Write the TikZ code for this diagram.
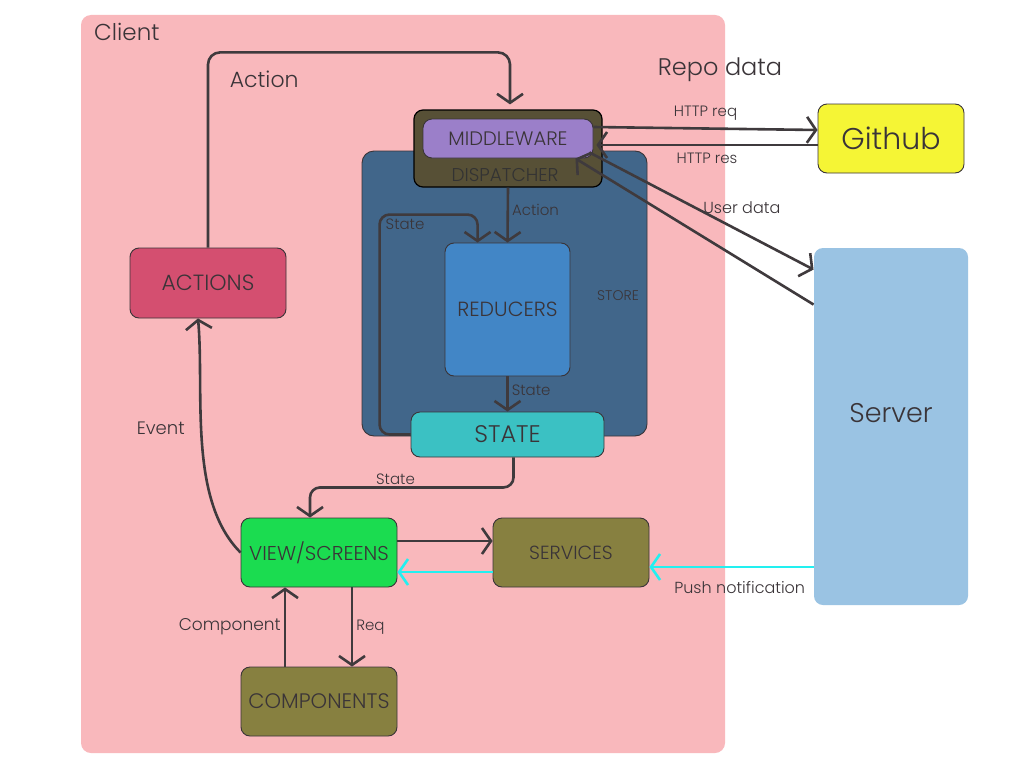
\documentclass[tikz,border=0pt]{standalone}
\usepackage{fontspec}
\setmainfont{Poppins}[UprightFont=* Light]
\usetikzlibrary{arrows.meta,positioning}
\definecolor{clientbg}{HTML}{F9B8BC}
\definecolor{storebg}{HTML}{41668A}
\definecolor{dispbg}{HTML}{575036}
\definecolor{midbg}{HTML}{9B7FC9}
\definecolor{redbg}{HTML}{4286C6}
\definecolor{statebg}{HTML}{3BC1C3}
\definecolor{actbg}{HTML}{D44F70}
\definecolor{viewbg}{HTML}{1BDC50}
\definecolor{olivebg}{HTML}{878040}
\definecolor{gitbg}{HTML}{F5F535}
\definecolor{serverbg}{HTML}{9AC3E3}
\definecolor{wire}{HTML}{3F3A3D}
\definecolor{ink}{HTML}{3A3438}
\definecolor{pushc}{HTML}{22F0F0}
\newcommand{\fsz}[1]{\fontsize{#1}{#1}\selectfont}

\begin{document}
\begin{tikzpicture}[x=1pt, y=-1pt, line join=round,
  box/.style={draw=ink, line width=0.9pt, rounded corners=9pt, fill=#1, text=ink,
  minimum width=156, minimum height=70, inner sep=2pt, font=\fsz{21}}, box/.default=white,
  arr/.style={-{Straight Barb[length=9pt,width=26pt]}, line width=2.6pt, draw=wire},
  lbl/.style={text=ink, font=\fsz{15}, inner sep=1pt}]
\fill[white] (0,0) rectangle (1024,768);
\useasboundingbox (0,0) rectangle (1024,768);
% client side
\node[fill=clientbg, rounded corners=10pt, minimum width=644, minimum height=738] (client) at (403,384) {};
\node[lbl, font=\fsz{23}, anchor=west] (clienttxt) at (93,32) {Client};
\node[box=storebg, minimum width=285, minimum height=285, rounded corners=12pt] (store) at (504.5,293.5) {};
\node[lbl, font=\fsz{14}] (storetxt) at (618,296) {STORE};
\node[box=dispbg, draw=black, minimum width=188, minimum height=77, line width=1.2pt] (dispatcher) at (508,148.5) {};
\node[lbl, font=\fsz{18.5}, text=black!80] (disptxt) at (505,175) {DISPATCHER};
\node[box=midbg, minimum width=170, minimum height=39, font=\fsz{19.5}] (middleware) at (508,138.5) {MIDDLEWARE};
\node[box=redbg, minimum width=125, minimum height=133, font=\fsz{20.5}] (reducers) at (507.5,309.5) {REDUCERS};
\node[box=statebg, minimum width=193, minimum height=45, font=\fsz{24}] (state) at (507.5,434.5) {STATE};
\node[box=actbg, font=\fsz{22}] (actions) at (208,283) {ACTIONS};
\node[box=viewbg, minimum height=69, font=\fsz{20}] (view) at (319,552.5) {VIEW/SCREENS};
\node[box=olivebg, minimum height=69, font=\fsz{19}] (services) at (571,552.5) {SERVICES};
\node[box=olivebg, minimum height=69, font=\fsz{21}] (components) at (319,701.5) {COMPONENTS};
% outside
\node[box=gitbg, minimum width=146, minimum height=69, font=\fsz{30}] (github) at (891,138.5) {Github};
\node[box=serverbg, draw=none, minimum width=154, minimum height=357, font=\fsz{27}] (server) at (891,426.5) {\raisebox{28pt}{Server}};
\node[lbl, font=\fsz{24}] (repotxt) at (720,70) {Repo data};
% flows
\draw[arr, rounded corners=12pt] (actions.north) |- ([xshift=2,yshift=57]dispatcher.north)
  node[lbl, font=\fsz{22}, pos=0.593, below=16pt] {Action} -- ([xshift=2,yshift=5]dispatcher.north);
\draw[arr] (dispatcher.south) -- node[lbl, pos=0.4, right=2pt] {Action} (reducers.north);
\draw[arr, rounded corners=10pt] (state.west) -| ([xshift=-65]reducers.north west)
  |- ([xshift=33,yshift=28]reducers.north west) node[lbl, pos=0.63, below=2pt] {State}
  -- ([xshift=33]reducers.north west);
\draw[arr] (reducers.south) -- node[lbl, pos=0.4, right=2pt] {State} (state.north);
\draw[arr, rounded corners=10pt] ([xshift=6]state.south) -- ++(0,30) -| node[lbl, pos=0.29, above=1pt] {State} ([xshift=-9]view.north);
\draw[arr] (view.west) to[out=135, in=-85, looseness=0.8] node[lbl, font=\fsz{18}, pos=0.56, left=14pt] {Event} ([xshift=-10]actions.south);
\draw[arr] ([yshift=11.5]view.east) -- ([yshift=11.5]services.west);
\draw[arr, draw=pushc] ([yshift=-19.5]services.west) -- ([yshift=-19.5]view.east);
\draw[arr, draw=pushc] ([yshift=-140.5]server.west) -- node[lbl, font=\fsz{16}, pos=0.45, below=12pt] {Push notification} ([yshift=-14.5]services.east);
\draw[arr] ([xshift=-34]components.north) -- node[lbl, font=\fsz{17}, left=2pt] {Component} ([xshift=-34]view.south);
\draw[arr] ([xshift=33]view.south) -- node[lbl, right=2pt] {Req} ([xshift=33]components.north);
\draw[arr] ([yshift=11.5]middleware.east) -- node[lbl, above=6pt] {HTTP req} ([yshift=8.5]github.west);
\draw[arr] ([yshift=-6.5]github.west) -- node[lbl, below=6pt] {HTTP res} ([xshift=3,yshift=-6.5]middleware.east);
\draw[arr] ([xshift=-4,yshift=6]middleware.south east) -- node[lbl, font=\fsz{16}, pos=0.68, above=16pt] {User data} ([yshift=-22]server.north west);
\draw[arr] ([yshift=-57]server.north west) -- ([xshift=-18]middleware.south east);
\end{tikzpicture}
\end{document}
